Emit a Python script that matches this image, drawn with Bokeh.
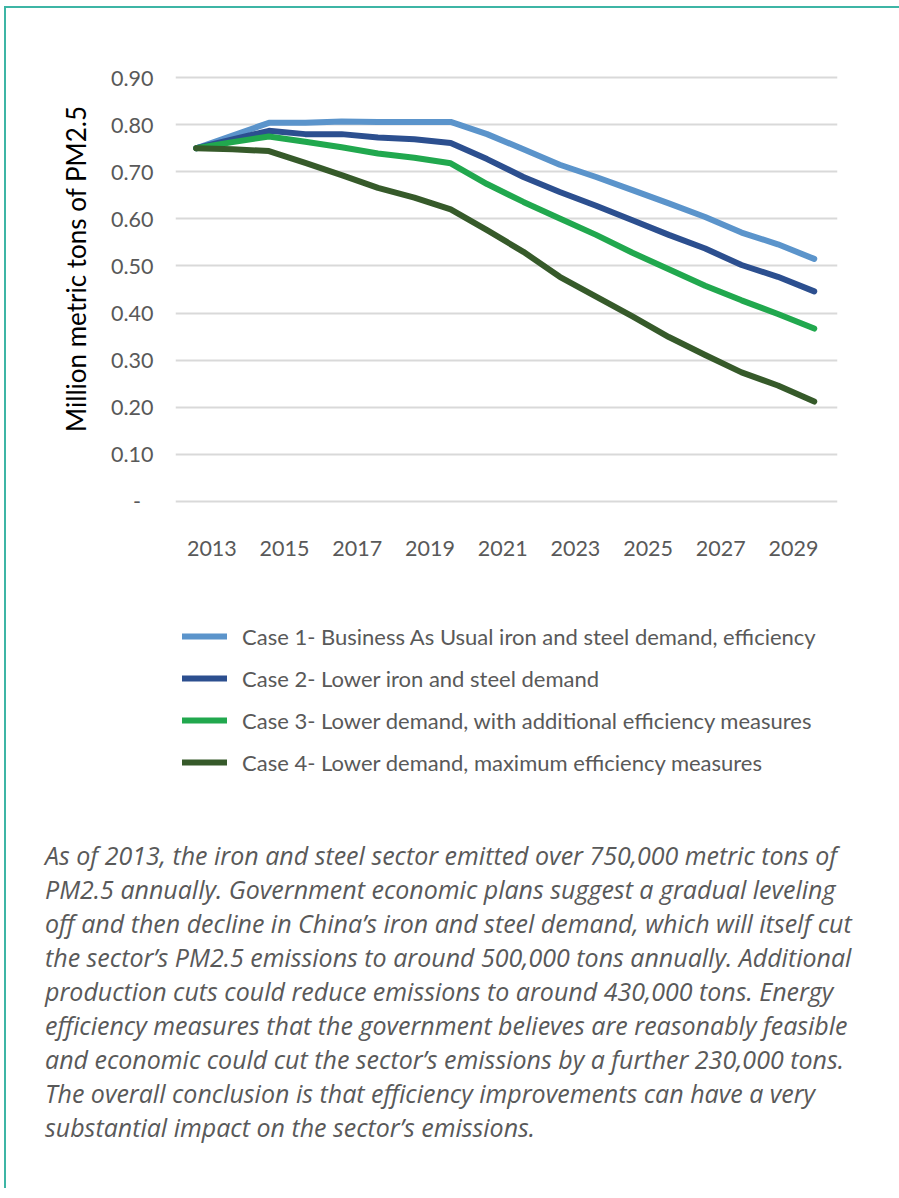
from bokeh.plotting import figure
from bokeh.models import Range1d, FixedTicker, Legend, LegendItem, Title, ColumnDataSource, Div
from bokeh.layouts import column
from bokeh.embed import file_html
from bokeh.resources import INLINE

# ---------------- data ----------------
years = list(range(2013, 2031))
case1 = [0.750, 0.777, 0.804, 0.804, 0.807, 0.806, 0.806, 0.806, 0.780, 0.748,
         0.715, 0.689, 0.661, 0.633, 0.604, 0.571, 0.546, 0.515]
case2 = [0.750, 0.769, 0.787, 0.780, 0.780, 0.773, 0.769, 0.761, 0.727, 0.689,
         0.657, 0.628, 0.597, 0.566, 0.537, 0.502, 0.477, 0.446]
case3 = [0.750, 0.763, 0.775, 0.764, 0.752, 0.739, 0.730, 0.718, 0.674, 0.636,
         0.601, 0.566, 0.528, 0.493, 0.458, 0.427, 0.398, 0.367]
case4 = [0.750, 0.748, 0.744, 0.719, 0.693, 0.666, 0.645, 0.620, 0.576, 0.530,
         0.477, 0.435, 0.393, 0.349, 0.311, 0.274, 0.246, 0.212]
series_names = [
    "Case 1- Business As Usual iron and steel demand, efficiency",
    "Case 2- Lower iron and steel demand",
    "Case 3- Lower demand, with additional efficiency measures",
    "Case 4- Lower demand, maximum efficiency measures",
]
x_label_years = [2013, 2015, 2017, 2019, 2021, 2023, 2025, 2027, 2029]
y_ticks = [0.0, 0.1, 0.2, 0.3, 0.4, 0.5, 0.6, 0.7, 0.8, 0.9]
y_tick_labels = ["-\u2007", "0.10", "0.20", "0.30", "0.40", "0.50", "0.60", "0.70", "0.80", "0.90"]
y_title = "Million metric tons of PM2.5"
caption_lines = [
    "As of 2013, the iron and steel sector emitted over 750,000 metric tons of",
    "PM2.5 annually. Government economic plans suggest a gradual leveling",
    "off and then decline in China\u2019s iron and steel demand, which will itself cut",
    "the sector\u2019s PM2.5 emissions to around 500,000 tons annually. Additional",
    "production cuts could reduce emissions to around 430,000 tons. Energy",
    "efficiency measures that the government believes are reasonably feasible",
    "and economic could cut the sector\u2019s emissions by a further 230,000 tons.",
    "The overall conclusion is that efficiency improvements can have a very",
    "substantial impact on the sector\u2019s emissions.",
]

# ---------------- styles ----------------
colors = ["#5B94CB", "#2C4F8F", "#21A84E", "#365A2A"]
grey = "#595959"
teal = "#3DB5A5"
axis_font = "Lato"
W = 893
X0, X1 = 2012.43, 2030.64
Y0, Y1 = -0.03, 0.93
label_shift = 0.43
all_cases = [case1, case2, case3, case4]

# ---------------- chart ----------------
p = figure(width=W, height=605, x_range=Range1d(X0, X1), y_range=Range1d(Y0, Y1),
           output_backend="svg", toolbar_location=None,
           min_border_left=169, min_border_right=62, min_border_top=55, min_border_bottom=98)
p.outline_line_color = None
p.background_fill_color = "white"
p.border_fill_color = "white"

for vals, c in zip(all_cases, colors):
    src = ColumnDataSource(dict(x=years, y=vals))
    p.line("x", "y", source=src, line_color=c, line_width=6,
           line_cap="round", line_join="round")

xt = [yr + label_shift for yr in x_label_years]
p.xaxis.ticker = FixedTicker(ticks=xt)
p.xaxis.major_label_overrides = {t: str(yr) for t, yr in zip(xt, x_label_years)}
p.yaxis.ticker = FixedTicker(ticks=y_ticks)
p.yaxis.major_label_overrides = {t: s for t, s in zip(y_ticks, y_tick_labels)}
for ax in (p.xaxis[0], p.yaxis[0]):
    ax.axis_line_color = None
    ax.major_tick_line_color = None
    ax.minor_tick_line_color = None
    ax.major_label_text_font = axis_font
    ax.major_label_text_font_size = "21.5px"
    ax.major_label_text_color = grey
p.xaxis.major_label_standoff = 19
p.yaxis.major_label_standoff = 16

p.xgrid.grid_line_color = None
p.ygrid.ticker = FixedTicker(ticks=y_ticks)
p.ygrid.grid_line_color = "#D9D9D9"
p.ygrid.grid_line_width = 2

p.add_layout(Title(text=y_title, align="right", offset=42, standoff=34,
                   text_font=axis_font, text_font_size="26px",
                   text_font_style="normal", text_color="black"), "left")

# ---------------- legend (own strip; its lines lie outside the strip's view) ----------------
leg = figure(width=W, height=181, x_range=Range1d(0, 1), y_range=Range1d(0, 1),
             output_backend="svg", toolbar_location=None,
             min_border_left=169, min_border_right=62, min_border_top=0, min_border_bottom=0)
leg.axis.visible = False
leg.grid.grid_line_color = None
leg.outline_line_color = None
leg_renderers = []
for vals, c in zip(all_cases, colors):
    src = ColumnDataSource(dict(x=years, y=vals))
    leg_renderers.append(leg.line("x", "y", source=src, line_color=c, line_width=6,
                                  line_cap="round"))
legend = Legend(items=[LegendItem(label=n, renderers=[r]) for n, r in zip(series_names, leg_renderers)],
                location="top_left", orientation="vertical",
                glyph_width=45, glyph_height=32, label_height=32, spacing=10,
                label_standoff=15, padding=0, margin=7,
                label_text_font=axis_font, label_text_font_size="22px",
                label_text_color=grey, border_line_color=None,
                background_fill_alpha=0)
leg.add_layout(legend, "center")

# ---------------- caption ----------------
cap_html = ('<div style="padding:44px 0 0 39px; font-family:\'Open Sans\'; font-style:italic; '
            'font-size:25px; line-height:34px; color:%s; white-space:nowrap;">%s</div>'
            % (grey, "<br>".join(caption_lines)))
cap = Div(text=cap_html, width=W, height=394, margin=0)

layout = column(p, leg, cap, spacing=0,
                styles={"margin-left": "4px", "margin-top": "6px",
                        "border-top": "2px solid " + teal, "border-left": "2px solid " + teal})

open("out.html", "w").write(file_html(layout, INLINE))
